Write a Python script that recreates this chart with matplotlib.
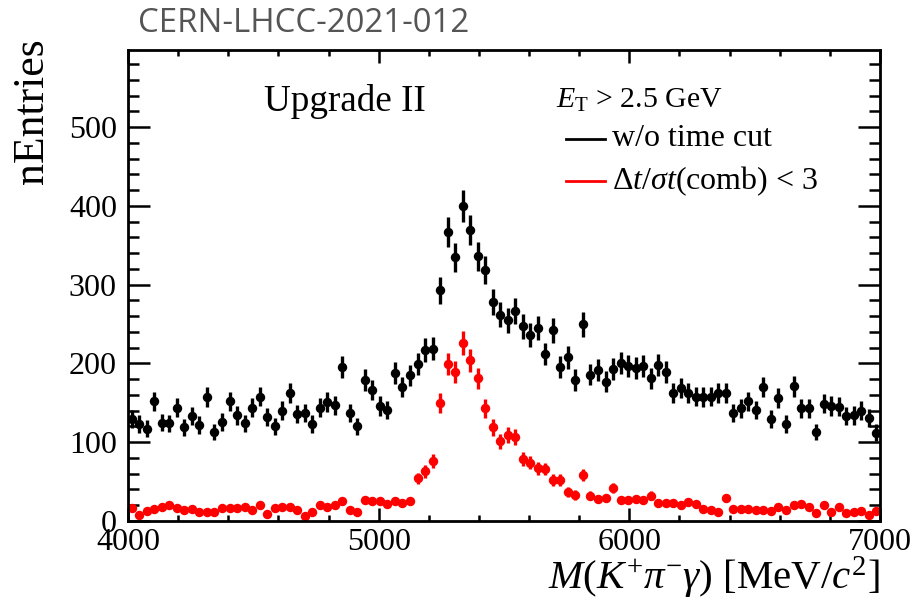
import numpy as np
import matplotlib
matplotlib.use("Agg")
import matplotlib.pyplot as plt
from matplotlib.lines import Line2D
from matplotlib.ticker import MultipleLocator

# ---- data ----
bin_low, bin_width, n_bins = 4000, 30, 100
mass = bin_low + bin_width * (np.arange(n_bins) + 0.5)

no_cut = [130, 123, 117, 152, 125, 124, 144, 119, 133, 122, 157, 113, 126, 152, 134, 124, 144, 158, 132, 120,
          140, 163, 136, 137, 123, 144, 151, 147, 195, 137, 120, 179, 166, 146, 141, 188, 170, 185, 199, 217,
          219, 293, 367, 335, 400, 369, 336, 319, 278, 262, 255, 267, 247, 236, 245, 212, 242, 196, 208, 179,
          250, 186, 192, 177, 193, 201, 197, 194, 197, 181, 198, 189, 163, 169, 162, 158, 157, 158, 162, 163,
          137, 143, 152, 141, 170, 129, 156, 123, 171, 143, 143, 113, 149, 146, 145, 133, 134, 140, 131, 112]

time_cut = [16, 8, 13, 15, 18, 20, 16, 14, 15, 12, 11, 12, 16, 16, 16, 18, 14, 20, 9, 16,
            18, 18, 14, 6, 11, 20, 18, 20, 25, 14, 12, 27, 26, 25, 22, 25, 23, 25, 54, 63,
            76, 150, 199, 189, 226, 204, 181, 143, 119, 101, 109, 107, 79, 74, 67, 66, 52, 52, 37, 33,
            58, 32, 28, 29, 42, 27, 27, 28, 27, 32, 23, 23, 23, 20, 24, 21, 15, 14, 12, 29,
            15, 15, 15, 14, 14, 13, 18, 14, 20, 21, 18, 10, 20, 12, 18, 10, 11, 13, 8, 13]

labels = ["w/o time cut", r"$\Delta t/\sigma t\mathrm{(comb)}$ < 3"]
colors = ["black", "red"]

# ---- style ----
plt.rcParams["font.family"] = ["Liberation Serif", "DejaVu Serif"]
plt.rcParams["mathtext.fontset"] = "custom"
plt.rcParams["mathtext.rm"] = "Liberation Serif"
plt.rcParams["mathtext.it"] = "Liberation Serif:italic"
plt.rcParams["mathtext.bf"] = "Liberation Serif:bold"

W, H = 915, 605
fig = plt.figure(figsize=(W / 100, H / 100), dpi=100)
L, R, T, B = 128, 880, 50, 521
ax = fig.add_axes([L / W, 1 - B / H, (R - L) / W, (B - T) / H])

for vals, c in zip([no_cut, time_cut], colors):
    v = np.asarray(vals, float)
    ax.errorbar(mass, v, yerr=np.sqrt(v), fmt="o", color=c, ms=6.8,
                elinewidth=2.4, capsize=0, mew=0)

ax.set_xlim(4000, 7000)
ax.set_ylim(0, 598)
ax.xaxis.set_major_locator(MultipleLocator(1000))
ax.xaxis.set_minor_locator(MultipleLocator(200))
ax.yaxis.set_major_locator(MultipleLocator(100))
ax.yaxis.set_minor_locator(MultipleLocator(20))
ax.tick_params(axis="both", which="both", direction="in", top=True, right=True,
               width=1.8, labelsize=23)
ax.tick_params(axis="x", which="major", length=9.5, pad=5)
ax.tick_params(axis="x", which="minor", length=4.5)
ax.tick_params(axis="y", which="major", length=16, pad=8)
ax.tick_params(axis="y", which="minor", length=8)
for s in ax.spines.values():
    s.set_linewidth(2.0)

# axis titles
fig.text(880 / W, 1 - 578 / H, r"$M(K^{+}\pi^{-}\gamma)$ [MeV/$c^{2}$]",
         ha="right", va="center", fontsize=29.5)
fig.text(12 / W, 1 - 38 / H, "nEntries", rotation=90, ha="left", va="top", fontsize=31.5)

# annotations
fig.text(345 / W, 1 - 101 / H, "Upgrade II", ha="center", va="center", fontsize=26.7)
fig.text(556 / W, 1 - 100 / H, r"$E_{\mathrm{T}}$ > 2.5 GeV", ha="left", va="center", fontsize=21.5)
for i, (lab, c) in enumerate(zip(labels, colors)):
    yp = 1 - (139 + 42 * i) / H
    fig.add_artist(Line2D([566 / W, 605 / W], [yp, yp], color=c, lw=2.0,
                          transform=fig.transFigure))
    fig.text(612 / W, yp, lab, ha="left", va="center", fontsize=23)

fig.text(138 / W, 1 - 24 / H, "CERN-LHCC-2021-012", ha="left", va="center",
         fontsize=23.8, color="#555555", family=["Open Sans", "DejaVu Sans"])

fig.savefig("out.png", dpi=100)
